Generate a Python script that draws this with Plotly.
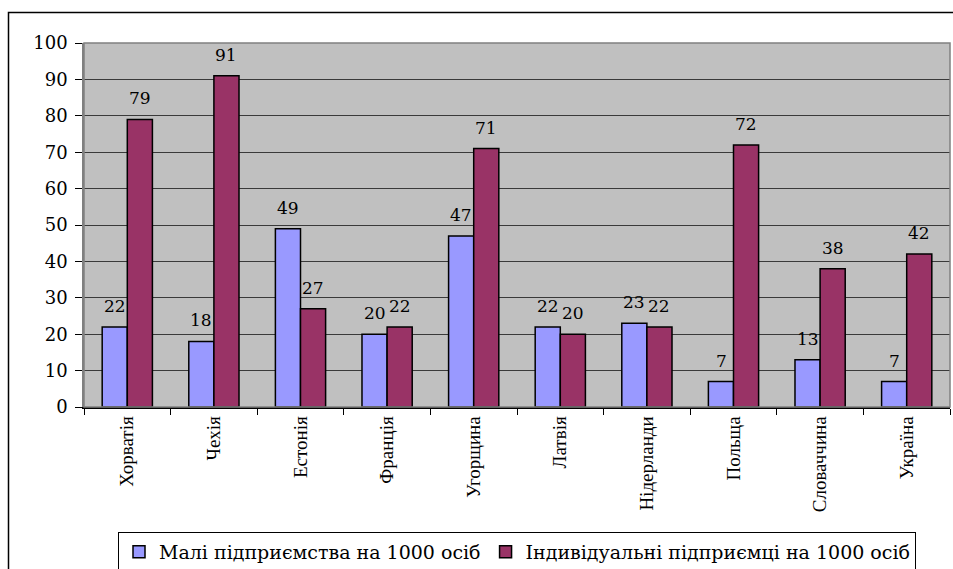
import plotly.graph_objects as go

# Countries and enterprise density per 1000 inhabitants
countries = ["Хорватія", "Чехія", "Естонія", "Франція", "Угорщина",
             "Латвія", "Нідерланди", "Польща", "Словаччина", "Україна"]
small_firms = [22, 18, 49, 20, 47, 22, 23, 7, 13, 7]
entrepreneurs = [79, 91, 27, 22, 71, 20, 22, 72, 38, 42]
y_ticks = [0, 10, 20, 30, 40, 50, 60, 70, 80, 90, 100]

num_font = "DejaVu Serif"
cat_font = "Liberation Serif"
BLUE, WINE = "#9999FF", "#993366"

L, R, T, B = 84, 3, 43, 162
W, H = 953, 569
pw, ph = W - L - R, H - T - B
bar_px = 25  # pixel width of one bar, used to centre value labels


def px_x(x):
    return (x - L) / pw


def px_y(y):
    return (H - B - y) / ph


fig = go.Figure()
fig.add_trace(go.Bar(
    x=countries, y=small_firms, name="Малі підприємства на 1000 осіб",
    marker=dict(color=BLUE, line=dict(color="#000000", width=1.5)),
))
fig.add_trace(go.Bar(
    x=countries, y=entrepreneurs, name="Індивідуальні підприємці на 1000 осіб",
    marker=dict(color=WINE, line=dict(color="#000000", width=1.5)),
))

# value labels above each bar
annotations = []
for series, shift in ((small_firms, -bar_px / 2), (entrepreneurs, bar_px / 2)):
    for c, v in zip(countries, series):
        annotations.append(dict(
            x=c, y=v, xref="x", yref="y", text=str(v), showarrow=False,
            xanchor="center", yanchor="bottom", xshift=shift, yshift=9,
            font=dict(family=num_font, size=17, color="#000000"),
        ))

fig.update_layout(
    template="none",
    width=W, height=H,
    margin=dict(l=L, r=R, t=T, b=B, pad=0, autoexpand=False),
    paper_bgcolor="#FFFFFF",
    plot_bgcolor="#C0C0C0",
    barmode="group",
    bargap=0.42,
    bargroupgap=0,
    font=dict(family=num_font, size=18, color="#000000"),
    showlegend=True,
    legend=dict(
        orientation="h",
        x=px_x(118), xanchor="left",
        y=px_y(532), yanchor="top",
        bordercolor="#000000", borderwidth=1,
        bgcolor="#FFFFFF",
        font=dict(family=num_font, size=19, color="#000000"),
        traceorder="normal",
    ),
    annotations=annotations,
    shapes=[
        # outer chart frame
        dict(type="rect", xref="paper", yref="paper",
             x0=px_x(8.5), x1=px_x(960), y0=px_y(580), y1=px_y(12.5),
             line=dict(color="#000000", width=1.5), fillcolor="rgba(0,0,0,0)",
             layer="below"),
        # plot area border
        dict(type="rect", xref="paper", yref="paper",
             x0=0, x1=1, y0=0, y1=1,
             line=dict(color="#808080", width=1.5), fillcolor="rgba(0,0,0,0)",
             layer="above"),
    ],
)

fig.update_yaxes(
    range=[0, 100], tickvals=y_ticks, ticktext=[str(v) for v in y_ticks],
    automargin=False,
    showgrid=True, gridcolor="#3A3A3A", gridwidth=1,
    zeroline=False,
    showline=True, linecolor="#808080", linewidth=1.5,
    ticks="outside", ticklen=7, tickcolor="#000000", tickwidth=1,
    tickfont=dict(family=num_font, size=18, color="#000000"),
    ticklabelstandoff=4,
)
fig.update_xaxes(
    type="category", tickangle=-90, tickson="boundaries",
    automargin=False,
    showgrid=False, zeroline=False,
    showline=True, linecolor="#000000", linewidth=1.5,
    ticks="outside", ticklen=6, tickcolor="#000000", tickwidth=1,
    tickfont=dict(family=cat_font, size=19, color="#000000"),
)

fig.write_html("out.html")
